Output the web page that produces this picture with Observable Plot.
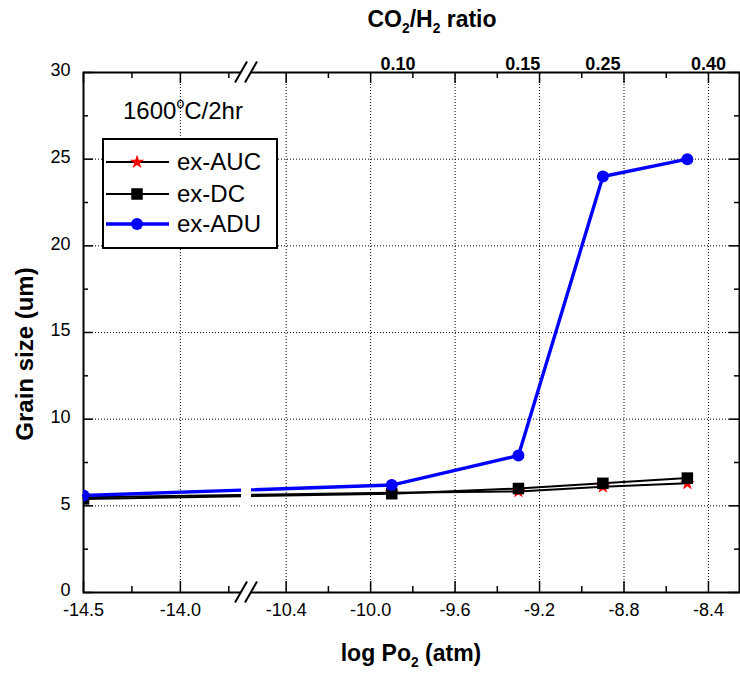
<!DOCTYPE html>
<html><head><meta charset="utf-8">
<script src="https://cdn.jsdelivr.net/npm/d3@7"></script>
<script src="https://cdn.jsdelivr.net/npm/@observablehq/plot@0.6"></script>
<style>body{margin:0;background:#fff} svg{display:block}</style>
</head><body><div id="chart"></div>
<script>
// ---- data ----
const logPo2 = [-14.5, -9.9, -9.3, -8.9, -8.5];
const exAUC  = [5.5, 5.75, 5.83, 6.1, 6.3];
const exDC   = [5.4, 5.7, 6.0, 6.3, 6.6];
const exADU  = [5.6, 6.2, 7.9, 24.0, 25.0];
const seriesNames = ["ex-AUC", "ex-DC", "ex-ADU"];
const xTicks = [-14.5, -14.0, -10.4, -10.0, -9.6, -9.2, -8.8, -8.4];
const xMinorTicks = [-14.25, -13.75, -10.2, -9.8, -9.4, -9.0, -8.6];
const xGrid = [-14.0, -10.4, -10.0, -9.6, -9.2, -8.8, -8.4];
const yTicks = [0, 5, 10, 15, 20, 25, 30];
const yMinorTicks = [2.5, 7.5, 12.5, 17.5, 22.5, 27.5];
const yGrid = [5, 10, 15, 20, 25];
const ratioLabels = ["0.10", "0.15", "0.25", "0.40"];
const ratioPos = [-9.87, -9.28, -8.90, -8.40];
const xBreak = [-13.7, -10.55];

// ---- styles ----
const FONT = "Liberation Sans, Arial, sans-serif";
const styles = {
  "ex-AUC": {stroke: "black", fill: "red", symbol: "star", r: 4.5, sw: 2},
  "ex-DC":  {stroke: "black", fill: "black", symbol: "square", r: 6.5, sw: 2},
  "ex-ADU": {stroke: "#0000ff", fill: "#0000ff", symbol: "circle", r: 6, sw: 3.4}
};
const seriesValues = {"ex-AUC": exAUC, "ex-DC": exDC, "ex-ADU": exADU};
const rows = seriesNames.flatMap(name => logPo2.map((x, i) => ({series: name, x, y: seriesValues[name][i]})));

const W = 740, H = 675, mL = 83, mR = 1, mT = 72, mB = 83;
const frameH = H - mT - mB;
const frameW = W - mL - mR;

function breakMark(index, scales, values, dims) {
  const x = scales.x, y = scales.y;
  const bx = (x(xBreak[0]) + x(xBreak[1])) / 2;
  const g = d3.create("svg:g");
  const top = dims.marginTop, bottom = dims.height - dims.marginBottom;
  // gap in the data lines
  g.append("rect").attr("x", bx - 5).attr("width", 10)
    .attr("y", y(6.6)).attr("height", y(4.9) - y(6.6)).attr("fill", "white");
  for (const cy of [top, bottom]) {
    g.append("rect").attr("x", bx - 5).attr("width", 10).attr("y", cy - 3).attr("height", 6).attr("fill", "white");
    for (const c of [bx - 5, bx + 5]) {
      g.append("line").attr("x1", c - 6).attr("y1", cy + 10.5).attr("x2", c + 6).attr("y2", cy - 10.5)
        .attr("stroke", "black").attr("stroke-width", 2);
    }
  }
  return g.node();
}

const seriesMarks = seriesNames.map(name => {
  const s = styles[name];
  const data = rows.filter(d => d.series === name);
  return Plot.line(data, {x: "x", y: "y", stroke: s.stroke, strokeWidth: s.sw});
});
const dotMarks = seriesNames.map(name => {
  const s = styles[name];
  const data = rows.filter(d => d.series === name);
  return Plot.dot(data, {x: "x", y: "y", symbol: () => s.symbol, fill: s.fill, stroke: "none", r: s.r, clip: true});
});

const plot = Plot.plot({
  width: W, height: H,
  marginLeft: mL, marginRight: mR, marginTop: mT, marginBottom: mB,
  style: {fontFamily: FONT, background: "white", overflow: "visible"},
  x: {type: "linear", domain: [-14.5, xBreak[0], xBreak[1], -8.253], range: [83, 238, 254, 739], axis: null},
  y: {domain: [0, 30], axis: null},
  symbol: {type: "identity"},
  marks: [
    Plot.ruleX(xGrid, {x: d => d, stroke: "black", strokeWidth: 1, strokeDasharray: "1,2"}),
    Plot.ruleY(yGrid, {y: d => d, stroke: "black", strokeWidth: 1, strokeDasharray: "1,2"}),
    // ticks (inward)
    Plot.ruleX(xTicks, {x: d => d, insetTop: frameH - 11, stroke: "black", strokeWidth: 1.5}),
    Plot.ruleX(xTicks, {x: d => d, insetBottom: frameH - 11, stroke: "black", strokeWidth: 1.5}),
    Plot.ruleX(xMinorTicks, {x: d => d, insetTop: frameH - 6, stroke: "black", strokeWidth: 1.5}),
    Plot.ruleX(xMinorTicks, {x: d => d, insetBottom: frameH - 6, stroke: "black", strokeWidth: 1.5}),
    Plot.ruleY(yTicks, {y: d => d, insetRight: frameW - 10, stroke: "black", strokeWidth: 1.5}),
    Plot.ruleY(yTicks, {y: d => d, insetLeft: frameW - 10, stroke: "black", strokeWidth: 1.5}),
    Plot.ruleY(yMinorTicks, {y: d => d, insetRight: frameW - 5, stroke: "black", strokeWidth: 1.5}),
    Plot.ruleY(yMinorTicks, {y: d => d, insetLeft: frameW - 5, stroke: "black", strokeWidth: 1.5}),
    Plot.frame({stroke: "black", strokeWidth: 2}),
    ...seriesMarks,
    breakMark,
    ...dotMarks,
    // tick labels
    Plot.text(xTicks, {x: d => d, frameAnchor: "bottom", dy: 23, text: d => d.toFixed(1), fontSize: 18, fontFamily: FONT, fill: "black"}),
    Plot.text(yTicks, {y: d => d, frameAnchor: "left", dx: -13, dy: -2, textAnchor: "end", text: d => String(d), fontSize: 18, fontFamily: FONT, fill: "black"}),
    Plot.text(ratioLabels, {x: (d, i) => ratioPos[i], frameAnchor: "top", dy: -15, text: d => d, fontSize: 18, fontWeight: "bold", fontFamily: FONT, fill: "black"})
  ]
});

document.getElementById("chart").appendChild(plot);
const svg = d3.select(plot);

// titles with sub/superscripts
function subText(x, y, parts, size, weight) {
  const t = svg.append("text").attr("x", x).attr("y", y).attr("text-anchor", "middle")
    .attr("font-family", FONT).attr("font-size", size).attr("font-weight", weight).attr("fill", "black");
  for (const [txt, kind] of parts) {
    const sp = t.append("tspan").text(txt);
    if (kind === "sub") sp.attr("font-size", size * 0.6).attr("dy", size * 0.28);
    else if (kind === "back") sp.attr("dy", -size * 0.28);
  }
  return t;
}
subText(432, 27, [["CO"], ["2", "sub"], ["/H", "back"], ["2", "sub"], [" ratio", "back"]], 23, "bold");
subText(411, 661, [["log Po"], ["2", "sub"], [" (atm)", "back"]], 23, "bold");
svg.append("text").attr("transform", "translate(33,354) rotate(-90)").attr("text-anchor", "middle")
  .attr("font-family", FONT).attr("font-size", 24).attr("font-weight", "bold").attr("fill", "black")
  .text("Grain size (um)");
const cond = svg.append("text").attr("x", 123).attr("y", 119).attr("text-anchor", "start")
  .attr("font-family", FONT).attr("font-size", 24).attr("fill", "black");
cond.append("tspan").text("1600");
cond.append("tspan").attr("font-size", 14).attr("dy", -11).text("o");
cond.append("tspan").attr("dy", 11).text("C/2hr");

// legend
const lg = svg.append("g");
lg.append("rect").attr("x", 103).attr("y", 139).attr("width", 174).attr("height", 109)
  .attr("fill", "white").attr("stroke", "black").attr("stroke-width", 2);
const rowY = [162, 194, 224];
const symMap = {star: d3.symbolStar, square: d3.symbolSquare};
seriesNames.forEach((name, i) => {
  const s = styles[name];
  const yy = rowY[i];
  lg.append("line").attr("x1", 106).attr("x2", 169).attr("y1", yy).attr("y2", yy)
    .attr("stroke", s.stroke).attr("stroke-width", s.sw);
  if (s.symbol === "circle") {
    lg.append("circle").attr("cx", 137).attr("cy", yy).attr("r", s.r).attr("fill", s.fill);
  } else {
    lg.append("path").attr("transform", `translate(137,${yy})`)
      .attr("d", d3.symbol(symMap[s.symbol], s.r * s.r * Math.PI)()).attr("fill", s.fill);
  }
  lg.append("text").attr("x", 177).attr("y", yy).attr("dy", "0.35em").attr("text-anchor", "start")
    .attr("font-family", FONT).attr("font-size", 24).attr("fill", "black").text(name);
});
</script>
</body></html>
